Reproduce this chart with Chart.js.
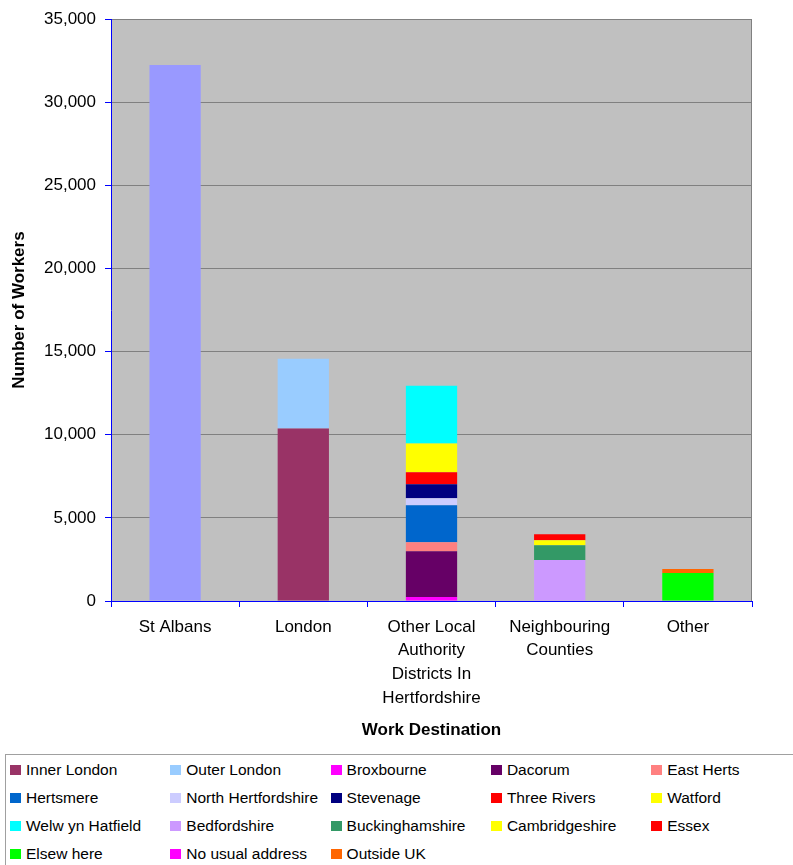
<!DOCTYPE html>
<html>
<head>
<meta charset="utf-8">
<script src="https://cdn.jsdelivr.net/npm/chart.js@4/dist/chart.umd.min.js"></script>
<style>
  body { margin: 0; background: #fff; font-family: "Liberation Sans", Arial, sans-serif; }
  #wrap { position: relative; width: 793px; height: 865px; overflow: hidden; }
  #chart { position: absolute; left: 0; top: 0; }
  #legend {
    position: absolute; left: 5px; top: 754px; width: 820px; height: 130px;
    border: 1px solid #a0a0a0; box-sizing: border-box;
    display: grid; grid-template-columns: repeat(5, 160.3px); grid-auto-rows: 28px;
    padding: 1px 0 0 4px; font-size: 15.5px; color: #000;
  }
  .item { display: flex; align-items: center; white-space: nowrap; }
  .swatch { width: 11px; height: 10px; margin-right: 5px; flex: none; }
</style>
</head>
<body>
<div id="wrap">
  <canvas id="chart" width="793" height="745"></canvas>
  <div id="legend"></div>
</div>
<script>
// Work destination categories along the x axis
const categories = ["St Albans", "London", ["Other Local", "Authority", "Districts In", "Hertfordshire"], ["Neighbouring", "Counties"], "Other"]

// Each series sits in one category (index into categories)
const seriesNames = [
  "St Albans",
  "Inner London", "Outer London",
  "Broxbourne", "Dacorum", "East Herts", "Hertsmere", "North Hertfordshire",
  "Stevenage", "Three Rivers", "Watford", "Welw yn Hatfield",
  "Bedfordshire", "Buckinghamshire", "Cambridgeshire", "Essex",
  "Elsew here", "No usual address", "Outside UK",
]
const seriesCategory = [0, 1, 1, 2, 2, 2, 2, 2, 2, 2, 2, 2, 3, 3, 3, 3, 4, 4, 4]
const seriesValues = [
  32250,
  10370, 4210,
  240, 2760, 540, 2220, 420, 840, 720, 1740, 3470,
  2460, 900, 300, 360,
  1680, 0, 240,
]
const seriesColors = [
  "#9999ff",
  "#993366", "#99ccff",
  "#ff00ff", "#660066", "#ff8080", "#0066cc", "#ccccff",
  "#000080", "#ff0000", "#ffff00", "#00ffff",
  "#cc99ff", "#339966", "#ffff00", "#ff0000",
  "#00ff00", "#ff00ff", "#ff6600",
]

// Y axis ticks
const yMax = 35000
const yStep = 5000

const datasets = seriesNames.map((name, i) => {
  const data = categories.map((c, j) => (j === seriesCategory[i] ? seriesValues[i] : 0))
  return {
    label: name,
    data: data,
    backgroundColor: seriesColors[i],
    borderWidth: 0,
    categoryPercentage: 1,
    barPercentage: 0.4,
    inLegend: i > 0,
  }
})

// grey plot background and right frame line
const plotBackground = {
  id: "plotBackground",
  beforeDraw(chart) {
    const { ctx, chartArea } = chart
    ctx.save()
    ctx.fillStyle = "#c0c0c0"
    ctx.fillRect(chartArea.left, chartArea.top, chartArea.right - chartArea.left, chartArea.bottom - chartArea.top)
    ctx.restore()
  },
  afterDatasetsDraw(chart) {
    const { ctx, chartArea } = chart
    ctx.save()
    ctx.strokeStyle = "#808080"
    ctx.lineWidth = 1
    ctx.beginPath()
    ctx.moveTo(Math.round(chartArea.right) - 0.5, chartArea.top)
    ctx.lineTo(Math.round(chartArea.right) - 0.5, chartArea.bottom)
    ctx.stroke()
    ctx.restore()
  },
}

const font = { family: "'Liberation Sans', Arial, sans-serif", size: 17 }

const chart = new Chart(document.getElementById("chart"), {
  type: "bar",
  data: { labels: categories, datasets: datasets },
  options: {
    responsive: false,
    animation: false,
    layout: { padding: { top: 16, right: 41, left: 0, bottom: 0 } },
    plugins: {
      legend: { display: false },
      tooltip: { enabled: false },
    },
    scales: {
      x: {
        stacked: true,
        grid: { display: true, drawOnChartArea: false, offset: true, tickColor: "#0000ff", tickLength: 6 },
        border: { color: "#0000ff" },
        ticks: { color: "#000", font: { ...font, lineHeight: 1.4 }, padding: 8, maxRotation: 0, autoSkip: false },
        title: {
          display: true,
          text: "Work Destination",
          color: "#000",
          font: { ...font, weight: "bold" },
          padding: { top: 4, bottom: 4 },
        },
        afterFit: (scale) => { scale.height = 144 },
      },
      y: {
        stacked: true,
        min: 0,
        max: yMax,
        grid: { color: "#808080", tickColor: "#0000ff", tickLength: 6 },
        border: { color: "#0000ff" },
        ticks: {
          stepSize: yStep,
          color: "#000",
          font: font,
          padding: 9,
          callback: (value) => value.toLocaleString("en-US"),
        },
        title: {
          display: true,
          text: "Number of Workers",
          color: "#000",
          font: { ...font, weight: "bold" },
          padding: { top: 9, bottom: 0 },
        },
        afterFit: (scale) => { scale.width = 111 },
      },
    },
  },
  plugins: [plotBackground],
})

// Legend laid out in five fixed columns
const legendBox = document.getElementById("legend")
chart.data.datasets.forEach((ds) => {
  if (!ds.inLegend) return
  const item = document.createElement("div")
  item.className = "item"
  item.innerHTML = `<span class="swatch" style="background:${ds.backgroundColor}"></span><span>${ds.label}</span>`
  legendBox.appendChild(item)
})
</script>
</body>
</html>
